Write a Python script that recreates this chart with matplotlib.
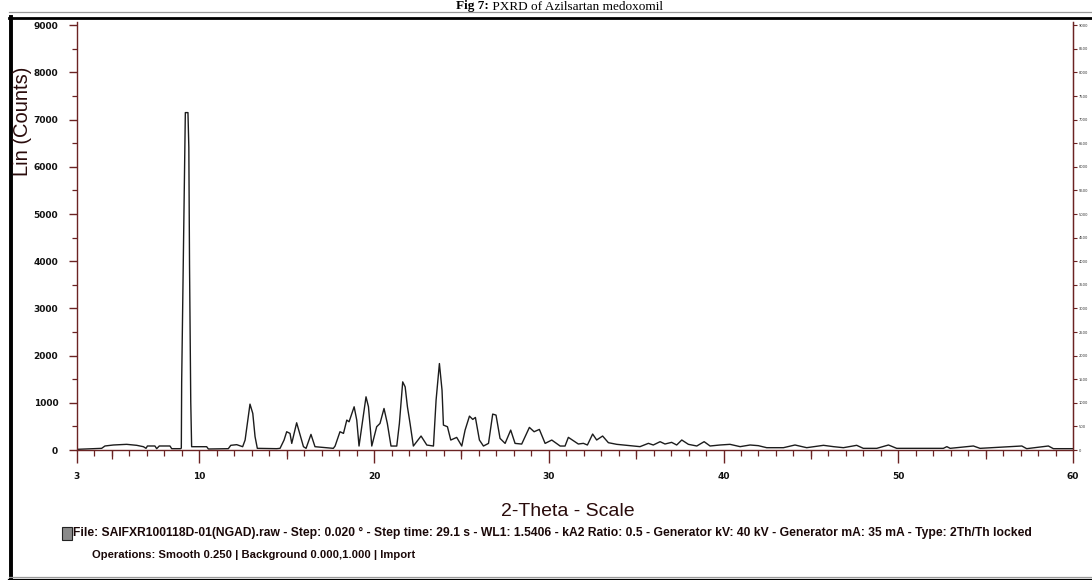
import matplotlib
matplotlib.use("Agg")
import matplotlib.pyplot as plt
from matplotlib.lines import Line2D
from matplotlib.patches import Rectangle
from matplotlib.ticker import FixedLocator, MultipleLocator

# vertices of the diffractogram (2-theta in degrees, counts)
two_theta = [
    3.00, 4.41, 4.60, 5.08, 5.84, 6.42, 6.80, 6.95, 7.03, 7.46, 7.56, 7.71, 8.32, 8.42, 8.93,
    8.97, 8.99, 9.09, 9.18, 9.20, 9.35, 9.40, 9.44, 9.51, 9.56,
    9.66, 10.42, 10.52, 11.66, 11.80, 12.14, 12.48, 12.62, 12.90, 13.06, 13.19, 13.32, 14.43,
    14.62, 14.85, 15.00, 15.19, 15.29, 15.57, 15.96, 16.11, 16.39, 16.62, 17.67, 17.77,
    18.05, 18.25, 18.44, 18.57, 18.86, 19.01, 19.14, 19.54, 19.68, 19.87, 20.15, 20.34,
    20.57, 20.76, 20.97, 21.30, 21.45, 21.64, 21.78, 21.91, 22.06, 22.25, 22.69, 23.02,
    23.40, 23.55, 23.74, 23.89, 23.97, 24.20, 24.39, 24.73, 25.02, 25.21, 25.46, 25.65,
    25.80, 26.03, 26.26, 26.55, 26.79, 26.98, 27.21, 27.50, 27.82, 28.07, 28.45, 28.89,
    29.16, 29.46, 29.79, 30.17, 30.65, 30.93,
    31.12, 31.41, 31.69, 31.98, 32.21, 32.51, 32.74, 33.08, 33.41, 33.89, 34.65, 35.22,
    35.70, 35.98, 36.37, 36.65, 37.03, 37.32, 37.61, 37.99, 38.47, 38.89, 39.23, 39.80,
    40.37, 40.95, 41.52, 41.99, 42.47, 43.43, 44.09, 44.76, 45.72, 46.29, 46.86, 47.62,
    48.00, 48.77, 49.44, 49.91, 52.58, 52.78, 52.97, 54.30, 54.68, 57.07, 57.35, 58.59,
    58.88, 60.00,
]
counts = [
    14, 35, 85, 106, 120, 99, 70, 35, 85, 85, 28, 85, 85, 28, 28,
    40, 1440, 4190, 6480, 7150, 7150, 6410, 3910, 1020, 70,
    70, 70, 21, 28, 99, 113, 70, 211, 972, 775, 282, 35, 28,
    35, 211, 387, 352, 140, 577, 70, 35, 331, 70, 35, 84,
    387, 352, 634, 598, 916, 634, 84, 1127, 916, 84, 493, 563,
    880, 563, 84, 84, 563, 1444, 1338, 916, 563, 84, 296, 105,
    84, 1057, 1832, 1268, 528, 493, 211, 267, 84, 422, 718, 648,
    690, 211, 84, 140, 761, 740, 246, 140, 422, 140, 126, 479,
    387, 436, 140, 211, 84, 84,
    268, 197, 127, 141, 106, 338, 212, 296, 155, 120, 92, 71,
    141, 106, 176, 127, 162, 106, 212, 120, 85, 176, 85, 106,
    120, 71, 106, 92, 49, 49, 106, 49, 99, 71, 49, 99,
    35, 35, 106, 35, 35, 71, 35, 85, 35, 85, 28, 85,
    28, 28,
]

x_tick_labels = [3, 10, 20, 30, 40, 50, 60]
y_tick_labels = [0, 1000, 2000, 3000, 4000, 5000, 6000, 7000, 8000, 9000]

title_bold = "Fig 7:"
title_rest = " PXRD of Azilsartan medoxomil"
x_label = "2-Theta - Scale"
y_label = "Lin (Counts)"
footer_1 = ("File: SAIFXR100118D-01(NGAD).raw - Step: 0.020 \u00b0 - Step time: 29.1 s - "
            "WL1: 1.5406 - kA2 Ratio: 0.5 - Generator kV: 40 kV - Generator mA: 35 mA - "
            "Type: 2Th/Th locked")
footer_2 = "Operations: Smooth 0.250 | Background 0.000,1.000 | Import"

W, H = 1092, 580
AXIS_COLOR = "#6b2323"
TEXT_COLOR = "#2a0c0c"


def fx(px):
    return px / W


def fy(py):
    return 1 - py / H


fig = plt.figure(figsize=(W / 100, H / 100), dpi=100)
fig.patch.set_facecolor("white")

ax = fig.add_axes([fx(77), fy(450), fx(1073 - 77), (450 - 22) / H])
ax.plot(two_theta, counts, color="#1c1c1c", linewidth=1.0)
ax.set_xlim(3, 60)
ax.set_ylim(0, 9070)

ax.spines["top"].set_visible(False)
for side in ("left", "bottom", "right"):
    ax.spines[side].set_color(AXIS_COLOR)
    ax.spines[side].set_linewidth(1.0)

ax.xaxis.set_major_locator(FixedLocator(x_tick_labels))
ax.xaxis.set_minor_locator(MultipleLocator(1))
ax.yaxis.set_major_locator(FixedLocator(y_tick_labels))
ax.yaxis.set_minor_locator(MultipleLocator(500))
ax.tick_params(axis="x", which="major", direction="out", length=9, width=1.0,
               color=AXIS_COLOR, pad=7, labelsize=6.5)
ax.tick_params(axis="x", which="minor", direction="out", length=4, width=0.9,
               color=AXIS_COLOR)
ax.tick_params(axis="y", which="major", direction="out", length=5.5, width=1.0,
               color=AXIS_COLOR, pad=8, labelsize=6.5)
ax.tick_params(axis="y", which="minor", direction="out", length=3.5, width=0.9,
               color=AXIS_COLOR)
for lab in ax.get_xticklabels() + ax.get_yticklabels():
    lab.set_fontweight("bold")
    lab.set_color("#111111")

# medium ticks every 5 degrees
sec = ax.secondary_xaxis("bottom")
sec.set_xticks([5, 15, 25, 35, 45, 55])
sec.tick_params(direction="out", length=6.5, width=0.9, color=AXIS_COLOR, labelbottom=False)
sec.spines["bottom"].set_visible(False)

# right hand count axis with tiny labels
rax = ax.twinx()
rax.set_ylim(ax.get_ylim())
rax.yaxis.set_major_locator(MultipleLocator(500))
rax.tick_params(axis="y", direction="out", length=3, width=0.8, color=AXIS_COLOR,
                labelsize=2.6, pad=1, labelcolor="#333333")
for side in ("top", "left", "bottom"):
    rax.spines[side].set_visible(False)
rax.spines["right"].set_color(AXIS_COLOR)

fig.text(fx(568), fy(511), x_label, ha="center", va="center", fontsize=14,
         family=["Liberation Sans Narrow", "Liberation Sans"], color=TEXT_COLOR)
fig.text(fx(23), fy(121), y_label, ha="center", va="center", rotation=90, fontsize=14.5,
         family="Liberation Sans", color=TEXT_COLOR)

# caption of the page above the chart
t1 = fig.text(fx(456), fy(9.5), title_bold, ha="left", va="baseline", fontsize=9.5,
              family="Liberation Serif", fontweight="bold", color="black")
fig.canvas.draw()
bb = t1.get_window_extent()
fig.text(bb.x1 / W, fy(9.5), title_rest, ha="left", va="baseline", fontsize=9.5,
         family="Liberation Serif", color="black")


def fit_text(x_px, y_px, text, width_px):
    t = fig.text(fx(x_px), fy(y_px), text, ha="left", va="center", fontsize=8,
                 family=["Liberation Sans Narrow", "Liberation Sans"], fontweight="bold",
                 color="#1a0808")
    fig.canvas.draw()
    w = t.get_window_extent().width
    t.set_fontsize(8 * width_px / w)
    return t


fit_text(73, 533, footer_1, 963)
fit_text(92, 555, footer_2, 325)

# small file icon in front of the footer
fig.add_artist(Rectangle((fx(62), fy(540)), fx(10), 13 / H, transform=fig.transFigure,
                         facecolor="#8a8a8a", edgecolor="#222222", linewidth=0.8))

# page frame lines
fig.add_artist(Line2D([fx(9), 1], [fy(12), fy(12)], color="#9a9a9a", linewidth=0.9))
fig.add_artist(Line2D([fx(9), 1], [fy(18), fy(18)], color="black", linewidth=2.0))
fig.add_artist(Line2D([fx(11.3), fx(11.3)], [0, fy(17)], color="black", linewidth=2.8))
fig.add_artist(Line2D([fx(9), 1], [fy(577), fy(577)], color="#9a9a9a", linewidth=0.9))
fig.add_artist(Line2D([fx(9), 1], [fy(579.5), fy(579.5)], color="black", linewidth=1.6))

fig.savefig("out.png", dpi=100, facecolor="white")
